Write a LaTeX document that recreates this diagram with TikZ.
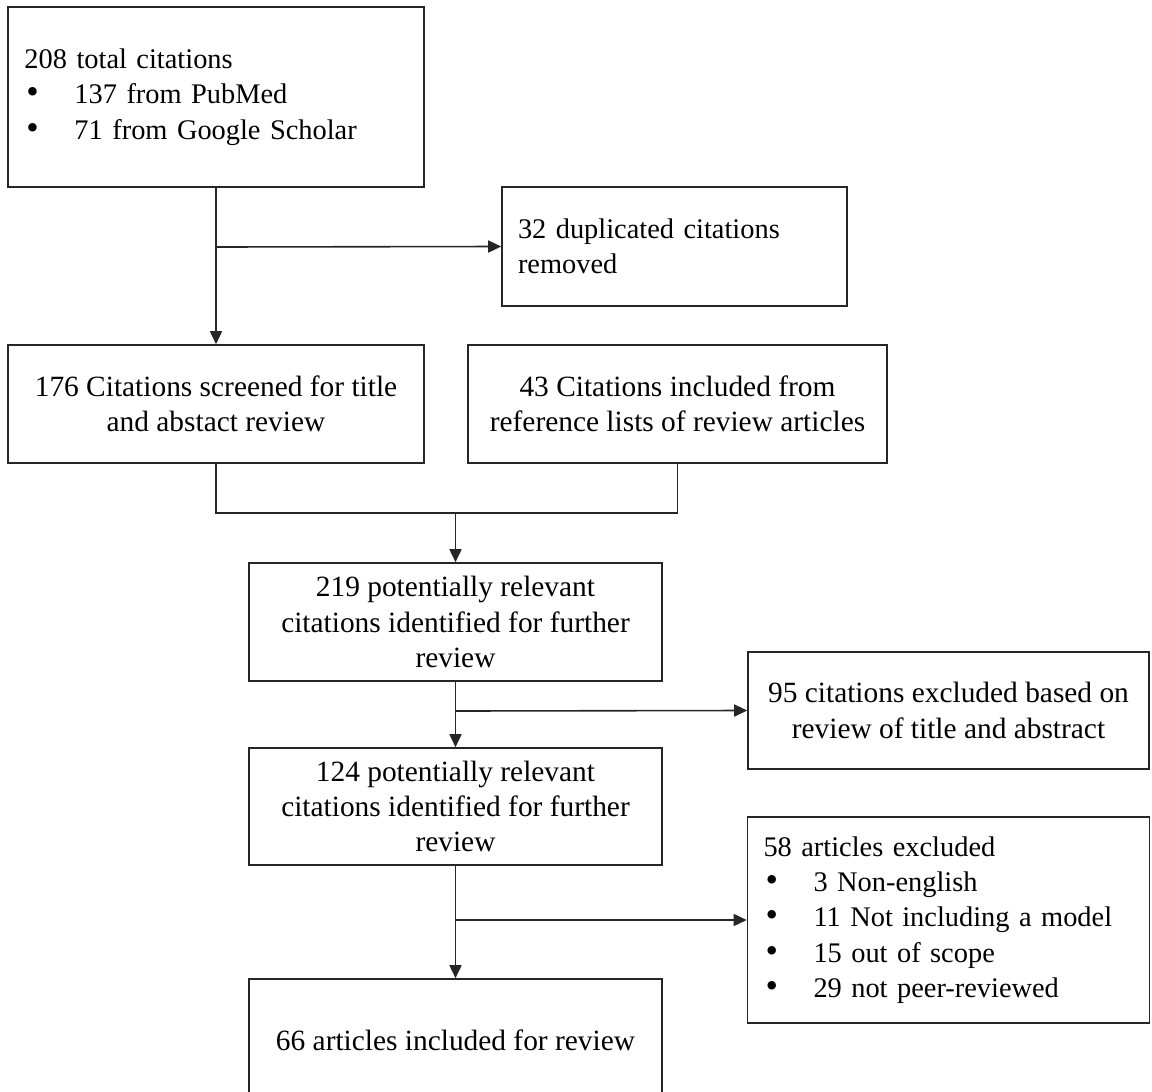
\documentclass[tikz,border=0pt]{standalone}
\usepackage{fontspec}
\setmainfont{Liberation Serif}
\usetikzlibrary{arrows.meta}
\begin{document}
\begin{tikzpicture}[x=1bp,y=-1bp,
  every node/.style={font=\fontsize{28.5}{35.5}\selectfont},
  flowbox/.style={draw=black!85,line width=1.6bp,rectangle,inner xsep=16bp,inner ysep=0pt},
  listbox/.style={flowbox,align=left},
  midbox/.style={flowbox,align=center,font=\fontsize{29.5}{35.5}\selectfont},
  link/.style={draw=black!85,line width=1.6bp},
  arrowlink/.style={link,-{Triangle[length=13bp,width=12bp]}}
]
\useasboundingbox (0,0) rectangle (1152,1092);
\clip (0,0) rectangle (1152,1092);
\fill[white] (0,0) rectangle (1152,1092);

\newcommand{\bul}{\makebox[50bp][l]{\hspace{2bp}\scalebox{1.25}{•}}}

% boxes of the flow
\node[listbox,minimum width=416bp,minimum height=180bp,text width=383bp] (b1) at (216,97)
  {208 total citations\\\bul 137 from PubMed\\\bul 71 from Google Scholar};
\node[listbox,minimum width=345bp,minimum height=119bp,text width=313bp] (b2) at (674.5,246.5)
  {32 duplicated citations\\removed};
\node[midbox,minimum width=416bp,minimum height=118bp] (b3) at (216,404)
  {176 Citations screened for title\\and abstact review};
\node[midbox,minimum width=419bp,minimum height=118bp] (b4) at (677.5,404)
  {43 Citations included from\\reference lists of review articles};
\node[midbox,minimum width=413bp,minimum height=118bp] (b5) at (455.5,622)
  {219 potentially relevant\\citations identified for further\\review};
\node[midbox,minimum width=401bp,minimum height=117bp] (b6) at (948.5,710.5)
  {95 citations excluded based on\\review of title and abstract};
\node[midbox,minimum width=413bp,minimum height=117bp] (b7) at (455.5,806.5)
  {124 potentially relevant\\citations identified for further\\review};
\node[listbox,minimum width=401bp,minimum height=206bp,text width=370bp] (b8) at (948.5,920)
  {58 articles excluded\\\bul 3 Non-english\\\bul 11 Not including a model\\\bul 15 out of scope\\\bul 29 not peer-reviewed};
\node[midbox,minimum width=413bp,minimum height=122bp] (b9) at (455.5,1040)
  {66 articles included for review};

% junction points
\coordinate (j0) at (216,247);
\coordinate (j1) at (455.5,513);
\coordinate (j2) at (455.5,711);
\coordinate (j3) at (455.5,920);

% connectors
\draw[arrowlink] (b1.south) -- (b3.north);
\draw[arrowlink] (j0) -- (b2.west);
\draw[link] (b3.south) -- (b3.south |- j1) -- (b4.south |- j1) -- (b4.south);
\draw[arrowlink] (j1) -- (b5.north);
\draw[arrowlink] (b5.south) -- (b7.north);
\draw[arrowlink] (j2) -- (b6.west);
\draw[arrowlink] (b7.south) -- (b9.north);
\draw[arrowlink] (j3) -- (b8.west);
\end{tikzpicture}
\end{document}
